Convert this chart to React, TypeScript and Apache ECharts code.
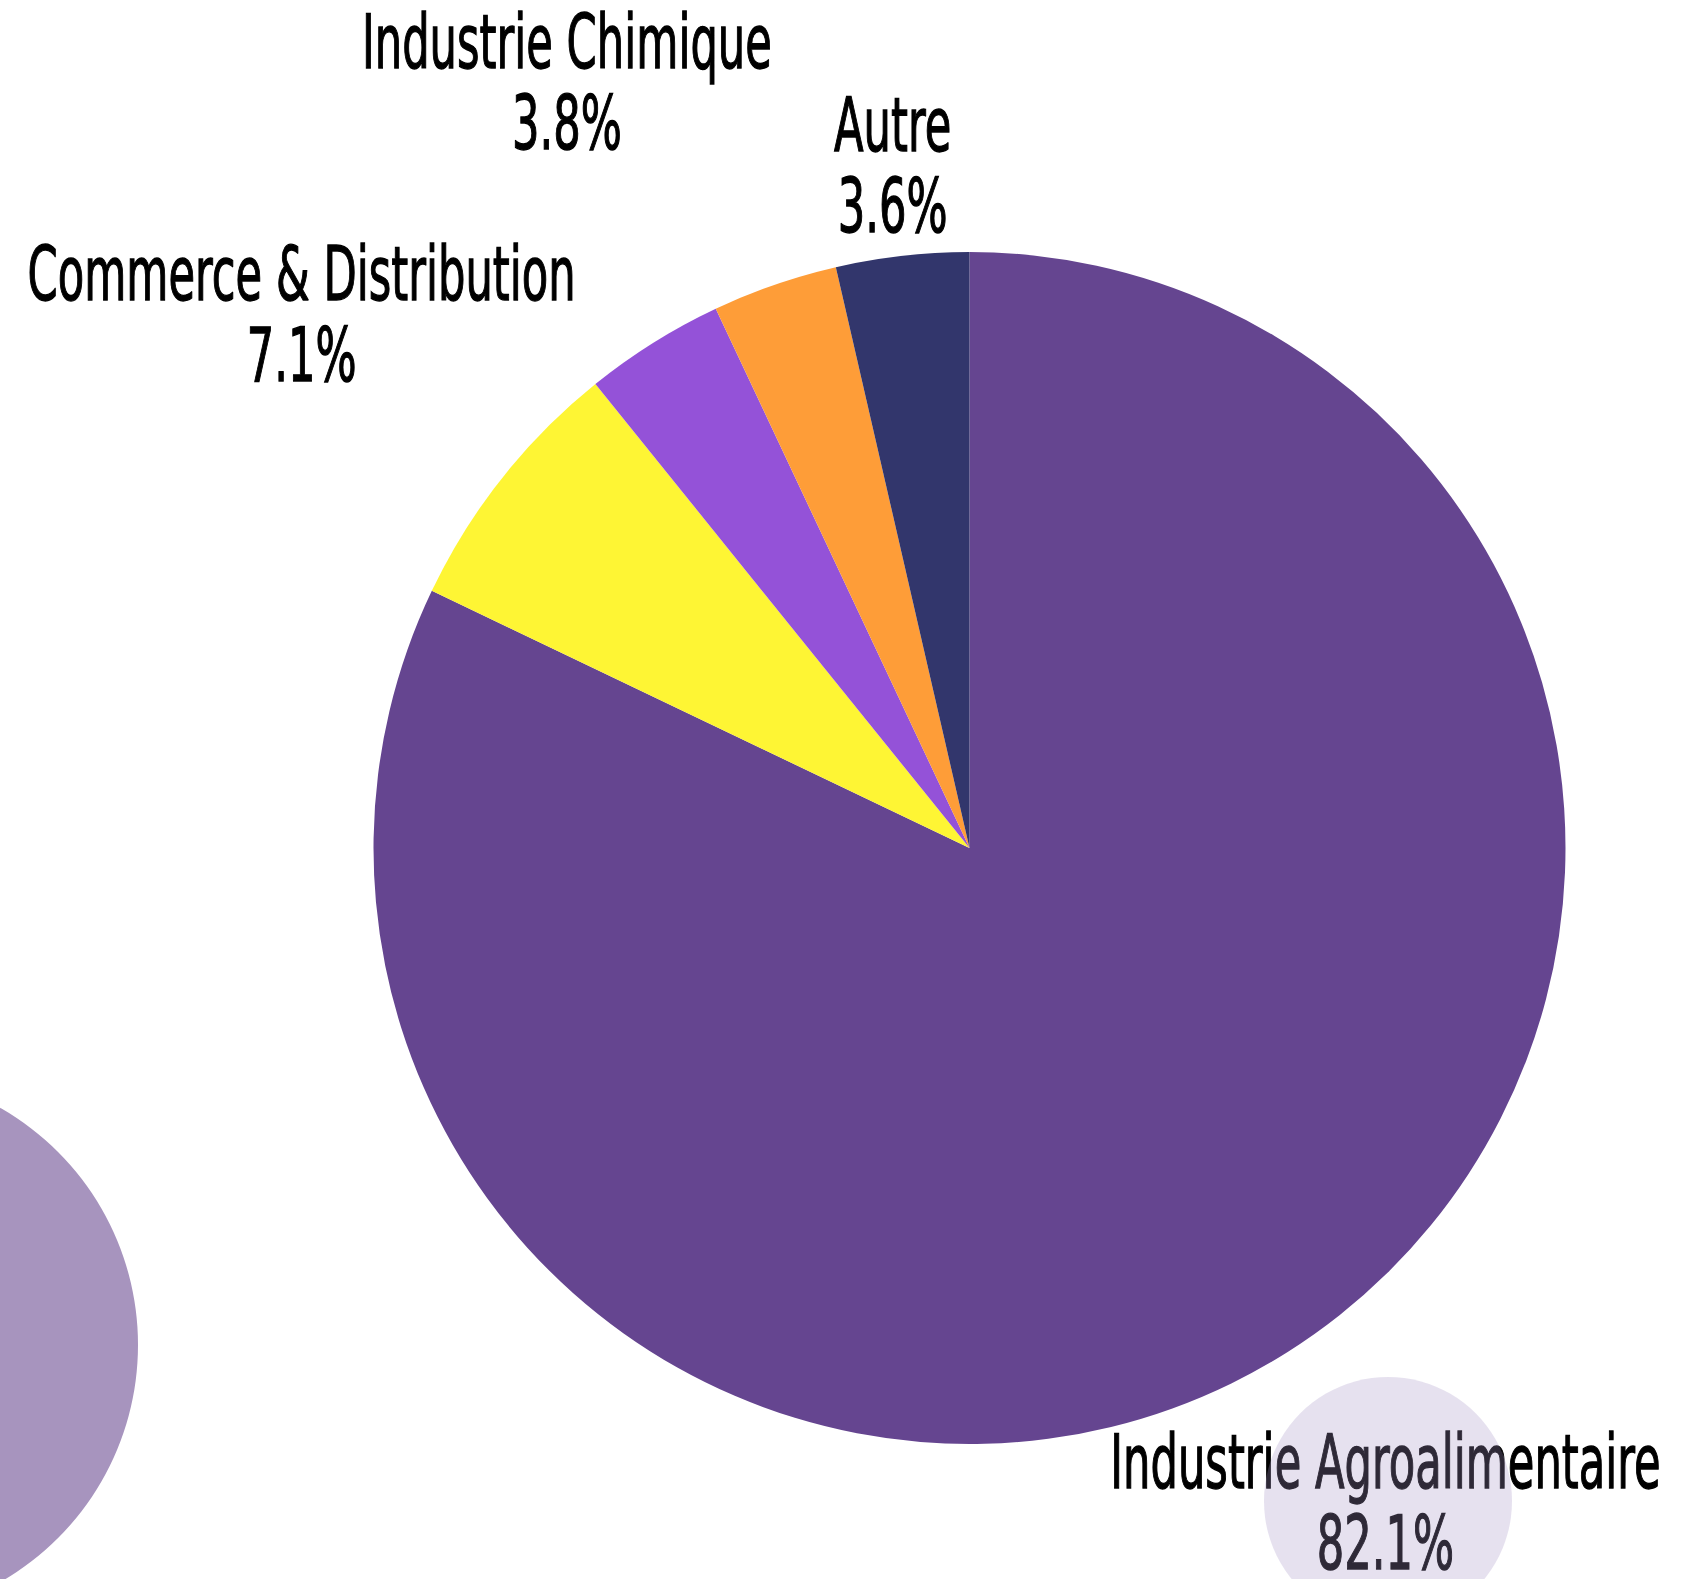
import React, { useEffect, useRef } from "react";
import * as echarts from "echarts";

// ---- data ----
const categories = [
  "Industrie Agroalimentaire",
  "Commerce & Distribution",
  "Industrie Chimique",
  "Autres industries",
  "Autre",
];
const shares = [82.1, 7.1, 3.8, 3.4, 3.6];
const showLabel = [true, true, true, false, true];
const colors = ["#654590", "#fef534", "#9452d8", "#fe9d38", "#32366c"];

// ---- layout / style ----
const W = 1687;
const H = 1579;
const CX = 969.5;
const CY = 848;
const R = 596;
const FONT_SIZE = 75;
const LINE_H = 81;
const FONT_FAMILY =
  "'Liberation Sans Narrow', 'DejaVu Sans Condensed', 'Liberation Sans', sans-serif";
const CONDENSE_EM = 5.77 * (71 / 75); // condensed width of the calibration string, in em
const LABEL_PAD = 70;
const GLYPH_SHIFT = -5;

type Lab = { text: string; x: number; y: number; hw: number; hh: number; top: boolean; left: boolean };

function buildLabels(measure: (s: string) => number, scaleX: number): Lab[] {
  const total = shares.reduce((a, b) => a + b, 0);
  let acc = 0;
  const out: Lab[] = [];
  shares.forEach((v, i) => {
    const a0 = (acc / total) * 360;
    acc += v;
    const a1 = (acc / total) * 360;
    if (!showLabel[i]) return;
    const mid = (((a0 + a1) / 2) * Math.PI) / 180;
    const dx = Math.sin(mid);
    const dy = -Math.cos(mid);
    const pct = v.toFixed(1) + "%";
    const w = Math.max(measure(categories[i]), measure(pct)) * scaleX;
    const hw = w / 2;
    const hh = LINE_H;
    const p = Math.abs(dx) * hw + Math.abs(dy) * hh;
    const t = p + Math.sqrt(p * p - (hw * hw + hh * hh - R * R));
    out.push({
      text: categories[i] + "\n" + pct,
      x: CX + dx * t,
      y: CY + dy * t,
      hw,
      hh,
      top: dy < 0,
      left: dx < 0,
    });
  });
  // resolve overlaps per quadrant, equator first, pushing away from the equator
  for (const top of [true, false]) {
    for (const left of [true, false]) {
      const q = out
        .filter((l) => l.top === top && l.left === left)
        .sort((a, b) => (top ? b.y - a.y : a.y - b.y));
      for (let i = 1; i < q.length; i++) {
        const cur = q[i];
        for (let j = 0; j < i; j++) {
          const o = q[j];
          const xOv = Math.abs(cur.x - o.x) < cur.hw + o.hw;
          const yOv = Math.abs(cur.y - o.y) < cur.hh + o.hh;
          if (xOv && yOv) {
            cur.y = top ? o.y - o.hh - LABEL_PAD - cur.hh : o.y + o.hh + LABEL_PAD + cur.hh;
          }
        }
      }
    }
  }
  return out;
}

export default function App() {
  const ref = useRef<HTMLDivElement>(null);
  useEffect(() => {
    if (!ref.current) return;
    const chart = echarts.init(ref.current, undefined, { renderer: "svg" });
    const cv = document.createElement("canvas");
    const ctx = cv.getContext("2d")!;
    ctx.font = `${FONT_SIZE}px ${FONT_FAMILY}`;
    const measure = (s: string) => ctx.measureText(s).width;
    const scaleX = (CONDENSE_EM * FONT_SIZE) / measure("Industrie Chimique");
    const labels = buildLabels(measure, scaleX);

    chart.setOption({
      animation: false,
      backgroundColor: "#ffffff",
      series: [
        {
          type: "pie",
          center: [CX, CY],
          radius: R,
          startAngle: 90,
          clockwise: true,
          silent: true,
          label: { show: false },
          labelLine: { show: false },
          emphasis: { disabled: true },
          itemStyle: { borderWidth: 0 },
          data: categories.map((name, i) => ({
            name,
            value: shares[i],
            itemStyle: { color: colors[i] },
          })),
        },
      ],
      graphic: [
        {
          type: "circle",
          z: 1,
          shape: { cx: -135, cy: 1345, r: 273 },
          style: { fill: "#a794be" },
          silent: true,
        },
        ...labels.map((l) => ({
          type: "text",
          z: 10,
          x: l.x,
          y: l.y + GLYPH_SHIFT,
          scaleX,
          silent: true,
          style: {
            text: l.text,
            fill: "#000000",
            stroke: "#000000",
            lineWidth: 1.3,
            fontSize: FONT_SIZE,
            fontFamily: FONT_FAMILY,
            lineHeight: LINE_H,
            align: "center",
            textAlign: "center",
            verticalAlign: "middle",
            textVerticalAlign: "middle",
          },
        })),
        {
          type: "circle",
          z: 20,
          shape: { cx: 1388, cy: 1501, r: 124 },
          style: { fill: "#a694c6", opacity: 0.28 },
          silent: true,
        },
      ],
    });
    return () => chart.dispose();
  }, []);
  return (
    <div
      ref={ref}
      style={{ position: "fixed", left: 0, top: 0, width: W, height: H, background: "#fff" }}
    />
  );
}
